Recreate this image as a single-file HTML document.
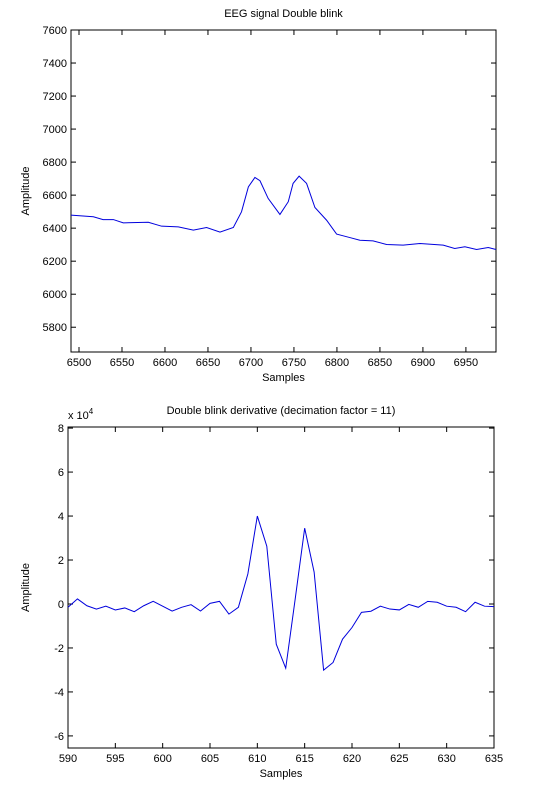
<!DOCTYPE html>
<html><head><meta charset="utf-8"><style>
html,body{margin:0;padding:0;background:#fff;}
svg{display:block;font-family:"Liberation Sans",sans-serif;font-size:11px;}
</style></head><body>
<svg id="c" width="551" height="805"></svg>
<script>
const topSamples=[6490.7,6516.7,6528,6540,6551.5,6580.6,6596,6615.5,6633,6648.4,6664,6679.5,6689,6697,6704.6,6710.5,6720,6733.7,6743.4,6749,6756,6764.7,6774.4,6788,6799.6,6815,6826.7,6842,6857.7,6877,6896.5,6923.6,6937,6948.8,6962.4,6976,6985];
const topValues=[6479,6469,6452,6452,6432,6436,6412,6408,6388,6404,6376,6404,6499,6650,6707,6687,6580,6483,6560,6671,6715,6671,6525,6448,6364,6343,6327,6323,6301,6297,6307,6297,6277,6287,6271,6283,6271];
const topXTicks=[6500,6550,6600,6650,6700,6750,6800,6850,6900,6950];
const topYTicks=[5800,6000,6200,6400,6600,6800,7000,7200,7400,7600];
const botSamples=[590,591,592,593,594,595,596,597,598,599,600,601,602,603,604,605,606,607,608,609,610,611,612,613,614,615,616,617,618,619,620,621,622,623,624,625,626,627,628,629,630,631,632,633,634,635];
const botValues=[-0.15,0.23,-0.08,-0.23,-0.1,-0.27,-0.18,-0.35,-0.08,0.12,-0.1,-0.32,-0.15,-0.03,-0.32,0.03,0.12,-0.46,-0.15,1.37,4.0,2.63,-1.83,-2.92,0.23,3.45,1.45,-3.01,-2.66,-1.6,-1.07,-0.38,-0.33,-0.1,-0.23,-0.27,-0.02,-0.15,0.12,0.08,-0.1,-0.15,-0.35,0.08,-0.1,-0.12];
const botXTicks=[590,595,600,605,610,615,620,625,630,635];
const botYTicks=[-6,-4,-2,0,2,4,6,8];

const NS="http://www.w3.org/2000/svg";
const svg=document.getElementById('c');
function mk(tag,attrs,parent){const e=document.createElementNS(NS,tag);for(const k in attrs)e.setAttribute(k,attrs[k]);(parent||svg).appendChild(e);return e;}

function drawPanel(o){
  const g=mk('g',{});
  
  
  const sx=v=>o.x0+(v-o.xd[0])/(o.xd[1]-o.xd[0])*(o.x1-o.x0);
  const sy=v=>o.y1-(v-o.yd[0])/(o.yd[1]-o.yd[0])*(o.y1-o.y0);
  const box=mk('rect',{x:o.x0,y:o.y0,width:o.x1-o.x0,height:o.y1-o.y0,fill:'#fff',stroke:'#000','stroke-width':1},g);
  
  
  o.xt.forEach(t=>{const x=sx(t);
    mk('line',{x1:x,x2:x,y1:o.y1,y2:o.y1-5,stroke:'#000'},g);
    mk('line',{x1:x,x2:x,y1:o.y0,y2:o.y0+5,stroke:'#000'},g);
    const tx=mk('text',{x:x,y:o.y1+14,'text-anchor':'middle'},g);tx.textContent=t;
    
    
  });
  o.yt.forEach(t=>{const y=sy(t);
    mk('line',{x1:o.x0,x2:o.x0+5,y1:y,y2:y,stroke:'#000'},g);
    mk('line',{x1:o.x1,x2:o.x1-5,y1:y,y2:y,stroke:'#000'},g);
    const tx=mk('text',{x:o.x0-4,y:y+4,'text-anchor':'end'},g);tx.textContent=t;
    
    
  });
  const d=o.xs.map((v,i)=>(i?'L':'M')+sx(v).toFixed(2)+','+sy(o.ys[i]).toFixed(2)).join(' ');
  const p=mk('path',{d:d,fill:'none',stroke:'#0000dd','stroke-width':1},g);
  
  
  const ti=mk('text',{x:(o.x0+o.x1)/2,y:o.y0-13,'text-anchor':'middle'},g);ti.textContent=o.title;
  
  
  const xl=mk('text',{x:(o.x0+o.x1)/2,y:o.y1+29,'text-anchor':'middle'},g);xl.textContent='Samples';
  
  
  const cy=(o.y0+o.y1)/2;
  const yl=mk('text',{x:29,y:cy,'text-anchor':'middle',transform:'rotate(-90 29 '+cy+')'},g);yl.textContent='Amplitude';
  
  
  return g;
}
drawPanel({name:'eeg-signal-chart',x0:71,x1:496,y0:30,y1:352,xd:[6490.7,6985],yd:[5650,7600],xt:topXTicks,yt:topYTicks,xs:topSamples,ys:topValues,title:'EEG signal Double blink'});
drawPanel({name:'derivative-chart',x0:68,x1:494,y0:427,y1:748,xd:[590,635],yd:[-6.55,8.05],xt:botXTicks,yt:botYTicks,xs:botSamples,ys:botValues,title:'Double blink derivative (decimation factor = 11)'});
const ex=mk('text',{x:68,y:419});


ex.innerHTML='x 10<tspan dy="-5" font-size="8">4</tspan>';
</script>
</body></html>
